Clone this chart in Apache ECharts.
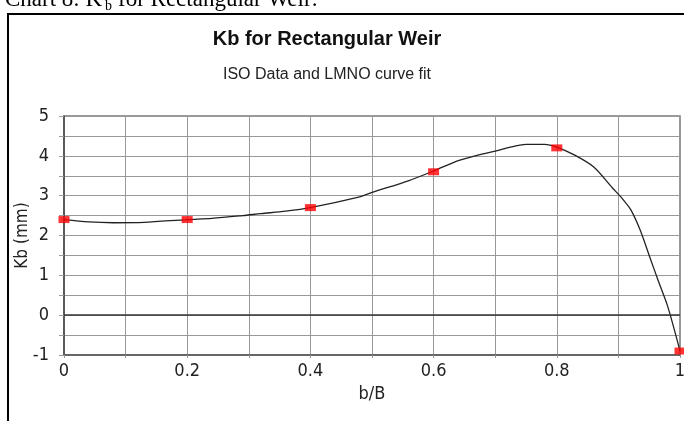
<!DOCTYPE html>
<html>
<head>
<meta charset="utf-8">
<script src="https://cdn.jsdelivr.net/npm/echarts@6/dist/echarts.min.js"></script>
<style>
  html, body { margin:0; padding:0; background:#fff; }
  #chart { width:684px; height:421px; }
</style>
</head>
<body>
<div id="chart"></div>
<script>
// ISO data points
const isoX = [0, 0.2, 0.4, 0.6, 0.8, 1.0];
const isoKb = [2.4, 2.4, 2.7, 3.6, 4.2, -0.9];

// LMNO curve fit
const fitX = [0, 0.04, 0.08, 0.13, 0.2, 0.24, 0.29, 0.32, 0.36, 0.4, 0.48, 0.5, 0.56, 0.6, 0.64, 0.68, 0.7, 0.73, 0.75, 0.78, 0.8, 0.83, 0.86, 0.89, 0.905, 0.92, 0.935, 0.95, 0.965, 0.98, 1.0];
const fitKb = [2.4, 2.34, 2.32, 2.33, 2.4, 2.43, 2.5, 2.55, 2.61, 2.7, 2.97, 3.08, 3.38, 3.62, 3.88, 4.05, 4.12, 4.24, 4.29, 4.29, 4.22, 4.01, 3.72, 3.2, 2.95, 2.65, 2.15, 1.5, 0.85, 0.22, -0.9];

const narrow = "'Liberation Sans Narrow', 'DejaVu Sans Condensed', 'Liberation Sans', sans-serif";

const chartE = echarts.init(document.getElementById('chart'), null, { renderer:'canvas' });

chartE.setOption({
    backgroundColor:'#fff',
    animation:false,
    title:[
        { text:'Kb for Rectangular Weir', left:322, textAlign:'center', top:24,
          textStyle:{ fontFamily:"'Liberation Sans', Arial, sans-serif", fontSize:20, fontWeight:'bold', color:'#111' } },
        { text:'ISO Data and LMNO curve fit', left:322, textAlign:'center', top:62,
          textStyle:{ fontFamily:"'Liberation Sans', Arial, sans-serif", fontSize:16, fontWeight:'normal', color:'#222' } }
    ],
    graphic:[
        { type:'rect', shape:{ x:8, y:14, width:700, height:440 }, style:{ fill:'none', stroke:'#000', lineWidth:2 }, silent:true },
        { type:'text', x:5, y:11, style:{ text:'Chart 8: K', font:"23px 'Liberation Serif', serif", fill:'#000', textVerticalAlign:'bottom' }, silent:true },
        { type:'text', x:105, y:13, style:{ text:'b', font:"14px 'Liberation Serif', serif", fill:'#000', textVerticalAlign:'bottom' }, silent:true },
        { type:'text', x:118, y:11, style:{ text:'for Rectangular Weir:', font:"23px 'Liberation Serif', serif", fill:'#000', textVerticalAlign:'bottom' }, silent:true }
    ],
    grid:{ left:64, right:4, top:116, bottom:66, outerBoundsMode:'none', show:true, borderColor:'#777', borderWidth:1.5 },
    xAxis:{
        type:'value', min:0, max:1, interval:0.1,
        name:'b/B', nameLocation:'middle', nameGap:24,
        nameTextStyle:{ fontFamily:narrow, fontSize:18, color:'#222' },
        axisLine:{ onZero:false, lineStyle:{ color:'#555', width:1.5 } },
        axisTick:{ show:true, length:3, lineStyle:{ color:'#999' } },
        axisLabel:{ margin:7, fontFamily:narrow, fontSize:18, color:'#222',
            formatter: v => (Math.round(v * 10) % 2 === 0) ? String(Math.round(v * 10) / 10) : '' },
        splitLine:{ show:true, lineStyle:{ color:'#999', width:1 } }
    },
    yAxis:{
        type:'value', min:-1, max:5, interval:0.5,
        name:'Kb (mm)', nameLocation:'middle', nameGap:33, nameRotate:90, nameMoveOverlap:false,
        nameTextStyle:{ fontFamily:narrow, fontSize:17, color:'#222' },
        axisLine:{ show:true, lineStyle:{ color:'#444', width:1.5 } },
        axisTick:{ show:true, length:5, lineStyle:{ color:'#999' } },
        axisLabel:{ margin:15, fontFamily:narrow, fontSize:18, color:'#222',
            formatter: v => Number.isInteger(v) ? String(v) : '' },
        splitLine:{ show:true, lineStyle:{ color:'#999', width:1 } }
    },
    series:[
        {
            type:'line', data:fitX.map((x, i) => [x, fitKb[i]]),
            smooth:0.3, showSymbol:false, lineStyle:{ color:'#222', width:1.3 },
            markLine:{ silent:true, symbol:'none', label:{ show:false },
                lineStyle:{ color:'#333', width:1.5, type:'solid' }, data:[{ yAxis:0 }] },
            z:3
        },
        {
            type:'scatter', data:isoX.map((x, i) => [x, isoKb[i]]),
            symbol:'rect', symbolSize:[11, 7], itemStyle:{ color:'#ff0000' }, z:4
        }
    ]
});
</script>
</body>
</html>
